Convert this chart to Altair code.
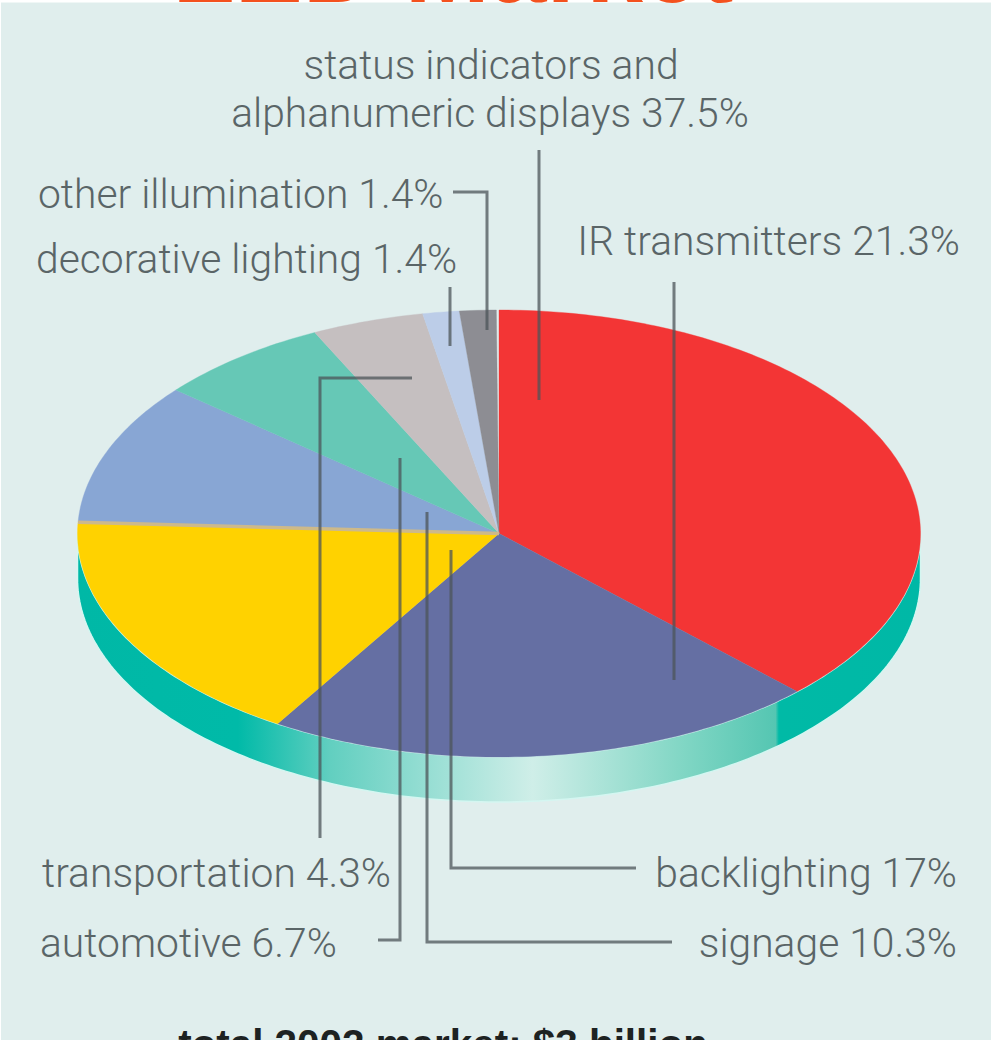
import math
import altair as alt

# Market share per application, in drawing order clockwise from twelve o'clock
shares = [37.5, 21.3, 17, 10.3, 6.7, 4.3, 1.4, 1.4]
segments = [
    "status indicators", "IR transmitters", "backlighting", "signage",
    "automotive", "transportation", "decorative lighting", "other illumination",
]
slice_colors = ["#f33535", "#656fa3", "#ffd200", "#88a6d4",
                "#66c8b6", "#c5bfc0", "#bccde8", "#8d8d93"]

W, H = 991, 1040
CX, CY, RX, RY = 499, 533.5, 421.5, 223.5
DEPTH = 45
BG = "#e0eeed"


def rim(a0, a1, dy=0.0, step=1.0):
    """Points along the ellipse between two clockwise angles from the top."""
    n = max(2, int(abs(a1 - a0) / step) + 1)
    pts = []
    for i in range(n + 1):
        a = math.radians(a0 + (a1 - a0) * i / n)
        pts.append([CX + RX * math.sin(a), CY - RY * math.cos(a) + dy])
    return pts


def polygon(name, pts):
    return {
        "type": "Feature",
        "properties": {"name": name},
        "geometry": {"type": "Polygon", "coordinates": [pts + [pts[0]]]},
    }


# Turn the shares into slices of the flattened disc
slice_features = []
edge_angles = []
start = 0.0
for name, share in zip(segments, shares):
    end = start + share * 3.6
    slice_features.append(polygon(name, [[CX, CY]] + rim(start, end)))
    start = end
    edge_angles.append(end)

# Pixel-space projection shared by every shape on the canvas
pixel_proj = dict(type="identity", scale=1, translate=[0, 0])

# Rim of the disc: the lower half of the ellipse extruded downwards
wall = polygon("wall", rim(90, 270) + rim(270, 90, dy=DEPTH))
wall_layer = alt.Chart(alt.Data(values=[wall])).mark_geoshape(
    stroke="#d4f6f1",
    strokeWidth=1.5,
    fill=alt.LinearGradient(
        gradient="linear", x1=0, x2=1, y1=0, y2=0,
        stops=[
            alt.GradientStop(offset=0.0, color="#00b8a6"),
            alt.GradientStop(offset=0.19, color="#00baa8"),
            alt.GradientStop(offset=0.30, color="#62cfc0"),
            alt.GradientStop(offset=0.54, color="#cfeee8"),
            alt.GradientStop(offset=0.72, color="#80d6c4"),
            alt.GradientStop(offset=0.828, color="#55c6b2"),
            alt.GradientStop(offset=0.832, color="#00baa6"),
            alt.GradientStop(offset=1.0, color="#00b8a6"),
        ],
    ),
).project(**pixel_proj)

slices_layer = alt.Chart(alt.Data(values=slice_features)).mark_geoshape(
    strokeWidth=0.6, strokeOpacity=0.6
).encode(
    color=alt.Color("properties.name:N",
                    scale=alt.Scale(domain=segments, range=slice_colors),
                    legend=None),
    stroke=alt.Stroke("properties.name:N",
                      scale=alt.Scale(domain=segments, range=slice_colors),
                      legend=None),
).project(**pixel_proj)

# Thin tan seam along the top of the yellow slice
seam = rim(edge_angles[2], edge_angles[2])[0]
seam_feature = {
    "type": "Feature",
    "properties": {},
    "geometry": {"type": "LineString", "coordinates": [[CX, CY], seam]},
}
seam_layer = alt.Chart(alt.Data(values=[seam_feature])).mark_geoshape(
    filled=False, stroke="#cdb98a", strokeWidth=3.5
).project(**pixel_proj)

x_scale = alt.Scale(domain=[0, W], range=[0, W])
y_scale = alt.Scale(domain=[0, H], range=[0, H])

# Leader lines from the labels into the slices
leaders = [
    [(539, 150), (539, 400)],
    [(453, 192), (487, 192), (487, 330)],
    [(450, 287), (450, 346)],
    [(674, 282), (674, 680)],
    [(412, 378), (320, 378), (320, 838)],
    [(400, 458), (400, 940), (378, 940)],
    [(427, 512), (427, 942), (672, 942)],
    [(451, 550), (451, 868), (636, 868)],
]
leader_rows = [
    {"leader": i, "step": j, "x": x, "y": y}
    for i, path in enumerate(leaders)
    for j, (x, y) in enumerate(path)
]
leader_layer = alt.Chart(alt.Data(values=leader_rows)).mark_line(
    color="#4c5458", strokeWidth=3, opacity=0.75, strokeJoin="miter"
).encode(
    x=alt.X("x:Q", scale=x_scale, axis=None),
    y=alt.Y("y:Q", scale=y_scale, axis=None),
    detail="leader:N",
    order="step:Q",
)

# Callout text
labels = [
    ("status indicators and", 491, 79, "center"),
    ("alphanumeric displays 37.5%", 490, 127, "center"),
    ("other illumination 1.4%", 38, 208, "left"),
    ("decorative lighting 1.4%", 36, 273, "left"),
    ("IR transmitters 21.3%", 960, 255, "right"),
    ("transportation 4.3%", 42, 887, "left"),
    ("backlighting 17%", 957, 887, "right"),
    ("automotive 6.7%", 40, 957, "left"),
    ("signage 10.3%", 957, 957, "right"),
]
label_rows = [{"t": t, "x": x, "y": y, "a": a} for t, x, y, a in labels]


def text_layer(align):
    rows = [r for r in label_rows if r["a"] == align]
    return alt.Chart(alt.Data(values=rows)).mark_text(
        font="Roboto", fontWeight=300, fontSize=40.8, color="#5a6567",
        align=align, baseline="alphabetic",
    ).encode(
        x=alt.X("x:Q", scale=x_scale, axis=None),
        y=alt.Y("y:Q", scale=y_scale, axis=None),
        text="t:N",
    )


# White paper edge above and to the left of the tinted panel
edge_rows = [
    {"x": 0, "x2": W, "y": 0, "y2": 2.4},
    {"x": 0, "x2": 1, "y": 0, "y2": H},
]
edge_layer = alt.Chart(alt.Data(values=edge_rows)).mark_rect(color="#ffffff").encode(
    x=alt.X("x:Q", scale=x_scale, axis=None),
    x2="x2:Q",
    y=alt.Y("y:Q", scale=y_scale, axis=None),
    y2="y2:Q",
)

# Headline and footer run off the top and bottom of the canvas
title_layer = alt.Chart(alt.Data(values=[{"t": "LED Market", "x": 453, "y": 2}])).mark_text(
    font="Liberation Sans", fontWeight="bold", fontSize=102, color="#f4511e",
    align="center", baseline="alphabetic",
).encode(
    x=alt.X("x:Q", scale=x_scale, axis=None),
    y=alt.Y("y:Q", scale=y_scale, axis=None),
    text="t:N",
)
footer_layer = alt.Chart(
    alt.Data(values=[{"t": "total 2002 market: $3 billion", "x": 443, "y": 1058}])
).mark_text(
    font="Liberation Sans", fontWeight="bold", fontSize=40.4, color="#1d2222",
    align="center", baseline="alphabetic",
).encode(
    x=alt.X("x:Q", scale=x_scale, axis=None),
    y=alt.Y("y:Q", scale=y_scale, axis=None),
    text="t:N",
)

chart = alt.layer(
    edge_layer,
    wall_layer,
    slices_layer,
    seam_layer,
    leader_layer,
    text_layer("center"),
    text_layer("left"),
    text_layer("right"),
    title_layer,
    footer_layer,
).resolve_scale(color="independent", stroke="independent").properties(
    width=W,
    height=H,
    padding=0,
    autosize=alt.AutoSizeParams(type="none"),
    background=BG,
).configure_view(stroke=None, clip=False)

chart.save("out.html", embed_options={"renderer": "svg", "actions": False})
